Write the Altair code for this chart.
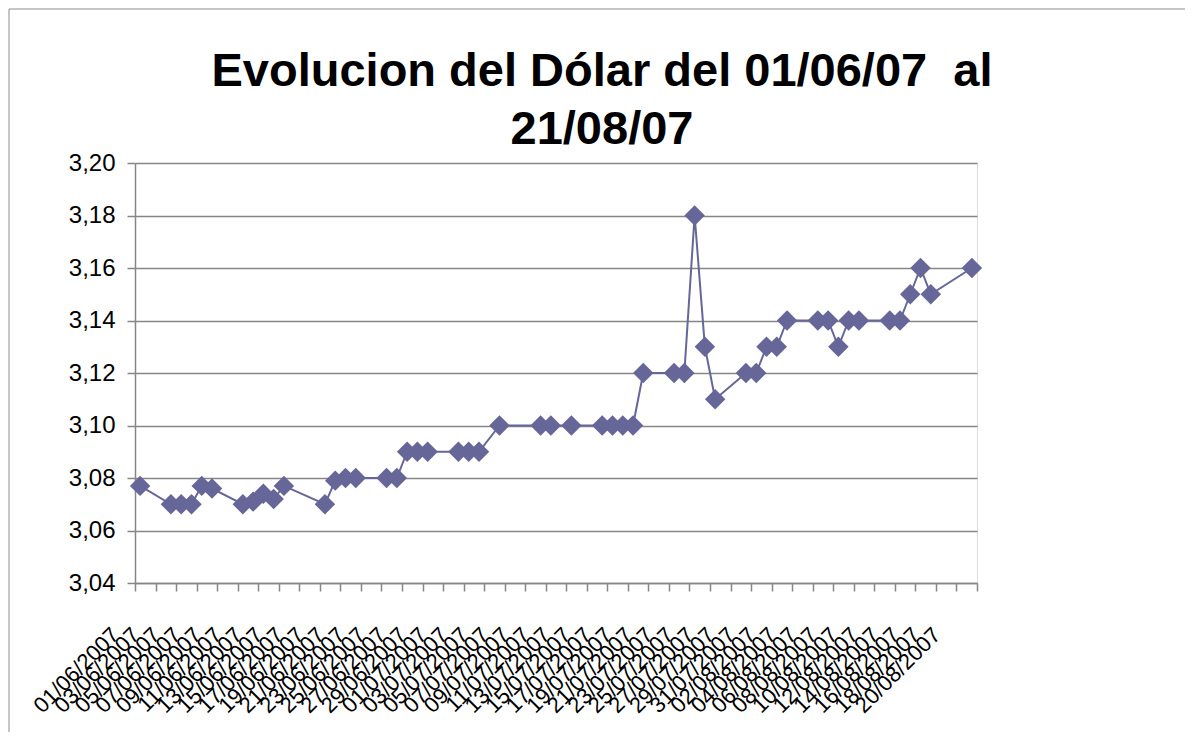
import datetime as dt
import altair as alt
import pandas as pd

# ---- data ----
dates = [
    "01/06/2007", "04/06/2007", "05/06/2007", "06/06/2007", "07/06/2007", "08/06/2007",
    "11/06/2007", "12/06/2007", "13/06/2007", "14/06/2007", "15/06/2007",
    "19/06/2007", "20/06/2007", "21/06/2007", "22/06/2007",
    "25/06/2007", "26/06/2007", "27/06/2007", "28/06/2007", "29/06/2007",
    "02/07/2007", "03/07/2007", "04/07/2007", "06/07/2007",
    "10/07/2007", "11/07/2007", "13/07/2007",
    "16/07/2007", "17/07/2007", "18/07/2007", "19/07/2007", "20/07/2007",
    "23/07/2007", "24/07/2007", "25/07/2007", "26/07/2007", "27/07/2007",
    "30/07/2007", "31/07/2007", "01/08/2007", "02/08/2007", "03/08/2007",
    "06/08/2007", "07/08/2007", "08/08/2007", "09/08/2007", "10/08/2007",
    "13/08/2007", "14/08/2007", "15/08/2007", "16/08/2007", "17/08/2007",
    "21/08/2007",
]
values = [
    3.077, 3.070, 3.070, 3.070, 3.077, 3.076,
    3.070, 3.071, 3.074, 3.072, 3.077,
    3.070, 3.079, 3.080, 3.080,
    3.080, 3.080, 3.090, 3.090, 3.090,
    3.090, 3.090, 3.090, 3.100,
    3.100, 3.100, 3.100,
    3.100, 3.100, 3.100, 3.100, 3.120,
    3.120, 3.120, 3.180, 3.130, 3.110,
    3.120, 3.120, 3.130, 3.130, 3.140,
    3.140, 3.140, 3.130, 3.140, 3.140,
    3.140, 3.140, 3.150, 3.160, 3.150,
    3.160,
]
y_ticks = [3.04, 3.06, 3.08, 3.10, 3.12, 3.14, 3.16, 3.18, 3.20]
title_lines = ["Evolucion del Dólar del 01/06/07 \u00a0al", "21/08/07"]

start = dt.datetime(2007, 6, 1)
end = dt.datetime(2007, 8, 22)
n_days = (end - start).days  # 82 day slots on the date axis
tick_days = list(range(0, n_days + 1, 2))
tick_labels = [(start + dt.timedelta(days=d)).strftime("%d/%m/%Y") for d in tick_days[:-1]]

day_pos = [(dt.datetime.strptime(d, "%d/%m/%Y") - start).days + 0.5 for d in dates]
df = pd.DataFrame({"fecha": dates, "dia": day_pos, "valor": values})

label_expr = "[" + ",".join("'" + t + "'" for t in tick_labels) + "][datum.value / 2] || ''"

FONT = "Liberation Sans, Arial, sans-serif"
COLOR = "#666699"
GRAY = "#868686"

x_enc = alt.X(
    "dia:Q",
    scale=alt.Scale(domain=[0, n_days], nice=False, zero=False),
    axis=alt.Axis(
        values=tick_days,
        labelExpr=label_expr,
        labelAngle=-45,
        labelAlign="right",
        labelBaseline="middle",
        labelFont=FONT,
        labelFontSize=22,
        labelColor="black",
        labelPadding=40,
        labelOffset=-20,
        labelOverlap=False,
        labelFlush=False,
        labelBound=False,
        tickSize=8,
        tickColor=GRAY,
        tickWidth=1.5,
        domainColor=GRAY,
        domainWidth=1.5,
        grid=False,
        title=None,
    ),
)
y_enc = alt.Y(
    "valor:Q",
    scale=alt.Scale(domain=[3.04, 3.20], nice=False, zero=False),
    axis=alt.Axis(
        values=y_ticks,
        labelExpr="replace(format(datum.value, '.2f'), '.', ',')",
        labelFont=FONT,
        labelFontSize=24,
        labelColor="black",
        labelPadding=12,
        tickSize=8,
        tickColor=GRAY,
        tickWidth=1.5,
        domainColor=GRAY,
        domainWidth=1.5,
        grid=True,
        gridColor=GRAY,
        gridWidth=1.5,
        title=None,
    ),
)

border = alt.Chart(pd.DataFrame({"k": [0]})).mark_rect(
    fill="transparent", stroke="#8c8c8c", strokeWidth=1
).encode(
    x=alt.value(-126), x2=alt.value(1051), y=alt.value(-154), y2=alt.value(582)
)

base = alt.Chart(df).encode(x=x_enc, y=y_enc)
line = base.mark_line(color=COLOR, strokeWidth=2)
points = base.mark_point(
    shape="diamond", filled=True, size=420, color=COLOR, opacity=1
).encode(tooltip=["fecha", "valor"])

chart = (
    alt.layer(border, line, points)
    .properties(
        width=842,
        height=420,
        autosize=alt.AutoSizeParams(type="none"),
        padding={"left": 127, "top": 155, "right": 208, "bottom": 149},
        title=alt.TitleParams(
            text=title_lines,
            font=FONT,
            fontSize=47,
            fontWeight="bold",
            color="black",
            anchor="middle",
            frame="group",
            dx=46,
            dy=145,
            offset=0,
            lineHeight=58,
        ),
    )
    .configure_view(stroke=None)
    .configure(background="white")
)

chart.save("out.html", embed_options={"renderer": "svg", "actions": False})
